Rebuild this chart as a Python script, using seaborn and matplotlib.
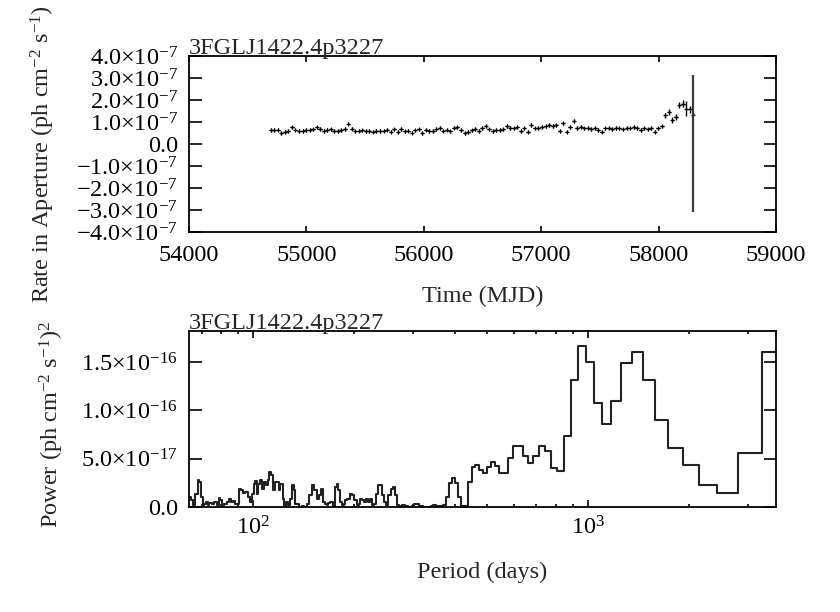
import numpy as np
import matplotlib
matplotlib.use("Agg")
import matplotlib.pyplot as plt
import seaborn as sns
from matplotlib.ticker import FixedLocator, FuncFormatter, LogLocator, NullFormatter

# ---------------- data ----------------
source = "3FGLJ1422.4p3227"

# light curve: 30-day bins starting MJD 54697
mjd_start = 54697
bin_days = 30
rate_e8 = [
    6.3, 6.4, 6.5, 5.0, 5.5, 5.8, 7.6, 6.5, 5.8, 5.9,
    6.4, 6.3, 6.7, 7.6, 6.8, 5.8, 6.3, 6.6, 5.9, 6.0,
    6.3, 6.9, 9.3, 7.0, 5.7, 6.1, 6.2, 6.0, 6.0, 5.6,
    5.8, 6.0, 6.1, 6.5, 5.6, 6.7, 5.5, 6.8, 5.7, 6.1,
    5.2, 6.2, 6.6, 5.0, 6.5, 5.9, 5.8, 6.8, 7.2, 6.1,
    6.5, 5.7, 7.4, 7.6, 6.4, 5.0, 5.4, 6.2, 6.8, 6.0,
    7.39, 8.30, 6.64, 5.88, 6.33, 6.33, 6.64, 8.30, 7.39, 7.09,
    7.84, 5.88, 7.09, 5.58, 8.60, 7.09, 7.39, 7.84, 7.99, 8.60,
    8.30, 8.60, 5.88, 9.35, 5.58, 7.84, 10.4, 7.39, 7.84, 7.09,
    7.39, 6.79, 7.39, 6.33, 5.58, 7.09, 7.39, 6.79, 7.39, 7.09,
    6.64, 7.39, 7.09, 7.84, 7.39, 6.33, 7.09, 6.64, 7.39, 5.58,
    7.09, 7.99,
    13.1, 14.6, 10.9, 12.4, 17.6, 18.4, 16.1, 15.8, 13.4,
]
rate_err_e8 = [0.8] * 112 + [1.2, 1.2, 1.2, 1.3, 1.4, 1.5, 3.4, 1.6]
last_err_lo_e8 = 44.2
last_err_hi_e8 = 17.8

# periodogram: noisy short-period part (period in days, power in 1e-17)
period_noisy = [
    64.4, 65.2, 65.9, 67.1, 68.2, 69.0, 69.8, 70.6, 71.4, 72.3,
    73.1, 73.9, 75.3, 76.5, 77.7, 78.8, 79.7, 80.6, 81.9, 83.3,
    84.4, 85.8, 87.2, 88.4, 89.8, 90.8, 91.9, 93.0, 94.7, 96.2,
    97.8, 99.1, 100.3, 101.4, 102.3, 103.3, 104.7, 106.2, 107.6, 109.1,
    110.4, 111.6, 112.9, 114.2, 115.8, 117.4, 119.0, 120.4, 122.4, 123.8,
    125.2, 126.6, 128.7, 130.5, 132.0, 133.5, 135.7, 137.2, 139.8, 142.0,
    144.3, 147.0, 149.7, 152.1, 154.6, 156.7, 159.3, 161.8, 163.7, 165.6,
    167.5, 169.4, 172.6, 175.4, 177.4, 179.5, 181.5, 183.6, 185.8, 187.9,
    190.9, 194.5, 197.6, 200.3, 203.6, 206.4, 208.3, 211.2, 214.1, 217.0,
    220.5, 223.1, 225.6, 229.3, 232.5, 235.7, 238.9, 242.3, 245.6, 249.0,
    253.0, 257.1, 260.6, 264.2, 267.9, 271.6, 277.3, 283.7, 290.3, 297.0,
    301.8, 307.4, 313.1, 321.8, 329.3, 338.5, 344.8, 351.2, 356.8, 365.0,
]
power_noisy = [
    1.00, 0.69, 0.18, 1.39, 2.77, 2.59, 1.04, 0.07, 0.35, 0.52,
    0.18, 0.42, 0.28, 0.52, 0.18, 0.97, 0.69, 0.18, 0.35, 0.52,
    0.83, 0.52, 0.59, 0.35, 0.28, 1.90, 1.73, 1.46, 1.56, 1.04,
    0.52, 1.39, 2.42, 2.70, 1.39, 2.42, 2.77, 1.90, 2.59, 2.25,
    2.77, 3.63, 3.29, 1.73, 2.59, 2.59, 1.73, 2.42, 0.87, 0.00,
    0.52, 0.18, 0.87, 2.25, 1.73, 0.35, 0.28, 0.00, 0.07, 0.00,
    0.35, 1.21, 2.25, 1.73, 0.87, 1.21, 1.90, 0.52, 0.35, 0.18,
    0.42, 0.52, 0.07, 2.08, 2.42, 1.73, 0.52, 0.18, 0.35, 0.69,
    0.87, 1.39, 1.21, 0.69, 0.18, 0.35, 0.87, 0.69, 0.52, 0.87,
    0.52, 0.87, 0.18, 0.35, 1.39, 2.25, 2.25, 1.21, 0.52, 0.18,
    1.21, 1.90, 2.08, 1.21, 0.18, 0.07, 0.18, 0.07, 0.00, 0.07,
    0.28, 0.28, 0.10, 0.00, 0.00, 0.10, 0.18, 0.07, 0.07, 0.00,
]

# periodogram: long-period frequency bins f = n / (5 T)
span_days = 3635
oversample = 5
bin_index = list(range(5, 50))
power_bins = [
    16.04, 5.56, 1.42, 2.28, 4.32, 6.05, 8.95, 13.1, 16.04, 14.9,
    10.99, 8.61, 10.75, 14.97, 16.6, 13.17, 7.36, 3.73, 4.01, 5.74,
    6.33, 5.29, 4.53, 5.22, 6.33, 6.33, 5.05, 3.56, 3.56, 4.27,
    4.6, 4.1, 3.49, 3.84, 4.36, 4.18, 2.63, 0.1, 0.1, 1.07,
    2.46, 2.97, 2.46, 1.07, 0.2,
]

# ---------------- style ----------------
FS = 17.5
sns.set_theme(style="ticks")
plt.rcParams["font.family"] = ["Liberation Serif", "DejaVu Serif"]
plt.rcParams["mathtext.fontset"] = "custom"
plt.rcParams["mathtext.rm"] = "Liberation Serif"
plt.rcParams["mathtext.it"] = "Liberation Serif:italic"
plt.rcParams["mathtext.bf"] = "Liberation Serif:bold"
plt.rcParams["font.size"] = FS
plt.rcParams["axes.linewidth"] = 1.3

fig = plt.figure(figsize=(8.4, 6.12), dpi=100)
fig.patch.set_facecolor("white")
ax1 = fig.add_axes([0.225, 0.6209, 0.6988, 0.2876])
ax2 = fig.add_axes([0.225, 0.1716, 0.6988, 0.2876])

# ---------------- top: light curve ----------------
mjd = mjd_start + bin_days * np.arange(len(rate_e8))
rate = np.array(rate_e8) * 1e-8
rerr = np.array(rate_err_e8) * 1e-8
n_main = len(rate_err_e8)
ax1.errorbar(mjd[:n_main], rate[:n_main], yerr=rerr, xerr=bin_days / 2,
             fmt="none", ecolor="black", elinewidth=1.0, capsize=0)
sns.scatterplot(x=mjd[:n_main], y=rate[:n_main], ax=ax1, marker="+", s=8,
                color="black", linewidth=0.8, legend=False)
ax1.errorbar([mjd[-1]], [rate[-1]],
             yerr=[[last_err_lo_e8 * 1e-8], [last_err_hi_e8 * 1e-8]],
             xerr=bin_days / 2, fmt="none", ecolor="#3a3a3a", elinewidth=1.6, capsize=0)
sns.scatterplot(x=[mjd[-1]], y=[rate[-1]], ax=ax1, marker="+", s=8,
                color="black", linewidth=0.8, legend=False)

ax1.set_xlim(54000, 59000)
ax1.set_ylim(-4e-7, 4e-7)
ax1.xaxis.set_major_locator(FixedLocator([54000, 55000, 56000, 57000, 58000, 59000]))
ax1.xaxis.set_major_formatter(FuncFormatter(lambda v, p: f"{int(round(v))}"))
ax1.yaxis.set_major_locator(FixedLocator(np.arange(-4, 5) * 1e-7))


def rate_fmt(v, pos):
    m = v / 1e-7
    if abs(m) < 1e-9:
        return "0.0"
    s = f"{abs(m):.1f}×10$^{{-7}}$"
    return ("−" + s) if m < 0 else s


ax1.yaxis.set_major_formatter(FuncFormatter(rate_fmt))
ax1.tick_params(axis="both", which="both", direction="in", top=True, right=True,
                labelsize=FS, width=1.2, colors="black")
ax1.tick_params(axis="y", length=9, pad=8)
ax1.tick_params(axis="x", length=4, pad=9)
ax1.set_xlabel("Time (MJD)", fontsize=FS)
ax1.set_ylabel("Rate in Aperture (ph cm$^{-2}$ s$^{-1}$)", fontsize=FS)
ax1.yaxis.set_label_coords(-0.225, 0.443)
ax1.xaxis.set_label_coords(0.5, -0.305)
ax1.text(0.0, 1.012, source, transform=ax1.transAxes, ha="left", va="baseline", fontsize=FS)
for sp in ax1.spines.values():
    sp.set_visible(True)
    sp.set_color("black")

# ---------------- bottom: periodogram ----------------
df = 1.0 / (oversample * span_days)
n = np.array(bin_index, dtype=float)
lo_edges = 1.0 / ((n + 0.5) * df)
hi_edges = 1.0 / ((n - 0.5) * df)
order = np.argsort(lo_edges)
step_x = list(lo_edges[order]) + [hi_edges[order][-1]]
pb = np.array(power_bins)[order]
step_y = list(pb) + [pb[-1]]

px = np.array(list(period_noisy) + step_x)
py = np.array(list(power_noisy) + step_y) * 1e-17

sns.lineplot(x=px, y=py, ax=ax2, drawstyle="steps-post", sort=False, estimator=None,
             color="#222222", linewidth=1.5)
ax2.set_xscale("log")
ax2.set_xlim(1.0 / (283 * df), 1.0 / (5 * df))
ax2.set_ylim(0, 1.82e-16)
ax2.yaxis.set_major_locator(FixedLocator([0, 5e-17, 1e-16, 1.5e-16]))
pow_labels = {0: "0.0", 1: "5.0×10$^{-17}$", 2: "1.0×10$^{-16}$", 3: "1.5×10$^{-16}$"}
ax2.yaxis.set_major_formatter(FuncFormatter(lambda v, p: pow_labels.get(int(round(v / 5e-17)), "")))
ax2.xaxis.set_major_locator(LogLocator(base=10, numticks=10))
ax2.xaxis.set_minor_locator(LogLocator(base=10, subs=np.arange(2, 10), numticks=20))
ax2.xaxis.set_minor_formatter(NullFormatter())
ax2.xaxis.set_major_formatter(FuncFormatter(lambda v, p: f"10$^{{{int(round(np.log10(v)))}}}$"))
ax2.tick_params(axis="both", which="both", direction="in", top=True, right=True,
                labelsize=FS, width=1.2, colors="black")
ax2.tick_params(axis="y", which="major", length=9, pad=8)
ax2.tick_params(axis="x", which="major", length=5, pad=7)
ax2.tick_params(axis="x", which="minor", length=2.5)
ax2.set_xlabel("Period (days)", fontsize=FS)
ax2.set_ylabel("Power (ph cm$^{-2}$ s$^{-1}$)$^{2}$", fontsize=FS)
ax2.yaxis.set_label_coords(-0.21, 0.466)
ax2.xaxis.set_label_coords(0.5, -0.31)
ax2.text(0.0, 1.012, source, transform=ax2.transAxes, ha="left", va="baseline", fontsize=FS)
for sp in ax2.spines.values():
    sp.set_visible(True)
    sp.set_color("black")

fig.savefig("out.png", dpi=100, facecolor="white")
